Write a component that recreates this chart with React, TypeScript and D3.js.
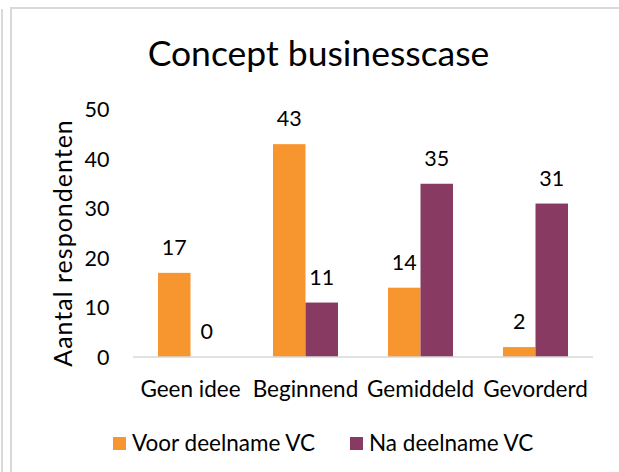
import React from "react";
import * as d3 from "d3";

const categories = ["Geen idee", "Beginnend", "Gemiddeld", "Gevorderd"];
const seriesNames = ["Voor deelname VC", "Na deelname VC"];
const voorValues = [17, 43, 14, 2];
const naValues = [0, 11, 35, 31];
const yTicks = [0, 10, 20, 30, 40, 50];
const colors = ["#F7962F", "#893A63"];

const W = 619;
const H = 472;
const FONT = "Lato, sans-serif";

export default function App() {
  const left = 133;
  const right = 593;
  const top = 109.5;
  const bottom = 357;
  const x = d3.scaleBand<string>().domain(categories).range([left, right]).paddingInner(0.435).paddingOuter(0.2175);
  const x1 = d3.scaleBand<number>().domain([0, 1]).range([0, x.bandwidth()]);
  const y = d3.scaleLinear().domain([0, 50]).range([bottom, top]);
  const series = [voorValues, naValues];

  return (
    <svg width={W} height={H} style={{ position: "absolute", left: 0, top: 0, background: "#fff" }} fontFamily={FONT}>
      <rect x={0} y={0} width={W} height={H} fill="#fff" />
      <line x1={2} x2={2} y1={9} y2={H} stroke="#d9d9d9" strokeWidth={2} />
      <line x1={11} x2={11} y1={8} y2={H} stroke="#d9d9d9" strokeWidth={2} />
      <line x1={10} x2={W} y1={8} y2={8} stroke="#d9d9d9" strokeWidth={2} />
      <text x={318.5} y={65.5} textAnchor="middle" fontSize={35.5} fill="#000">
        Concept businesscase
      </text>
      <text
        transform={`translate(72, ${243}) rotate(-90)`}
        textAnchor="middle"
        fontSize={25}
        letterSpacing={1}
        fill="#000"
      >
        Aantal respondenten
      </text>
      {yTicks.map((t) => (
        <text key={t} x={109.5} y={y(t)} dy="0.36em" textAnchor="end" fontSize={21.5} fill="#000">
          {t}
        </text>
      ))}
      {series.map((vals, si) =>
        vals.map((v, ci) => {
          const bx = (x(categories[ci]) as number) + (x1(si) as number);
          return (
            <g key={`${si}-${ci}`}>
              <rect x={bx} y={y(v)} width={x1.bandwidth()} height={bottom - y(v)} fill={colors[si]} />
              <text x={bx + x1.bandwidth() / 2} y={y(v) - 18} textAnchor="middle" fontSize={21.5} fill="#000">
                {v}
              </text>
            </g>
          );
        })
      )}
      <line x1={left} x2={right} y1={bottom} y2={bottom} stroke="#d9d9d9" strokeWidth={1.5} />
      {categories.map((c) => (
        <text key={c} x={(x(c) as number) + x.bandwidth() / 2} y={397} textAnchor="middle" fontSize={22.5} fill="#000">
          {c}
        </text>
      ))}
      {seriesNames.map((s, i) => {
        const lx = i === 0 ? 113 : 350;
        return (
          <g key={s}>
            <rect x={lx} y={437} width={13} height={13} fill={colors[i]} />
            <text x={lx + 19} y={451} fontSize={22.5} fill="#000">
              {s}
            </text>
          </g>
        );
      })}
    </svg>
  );
}
